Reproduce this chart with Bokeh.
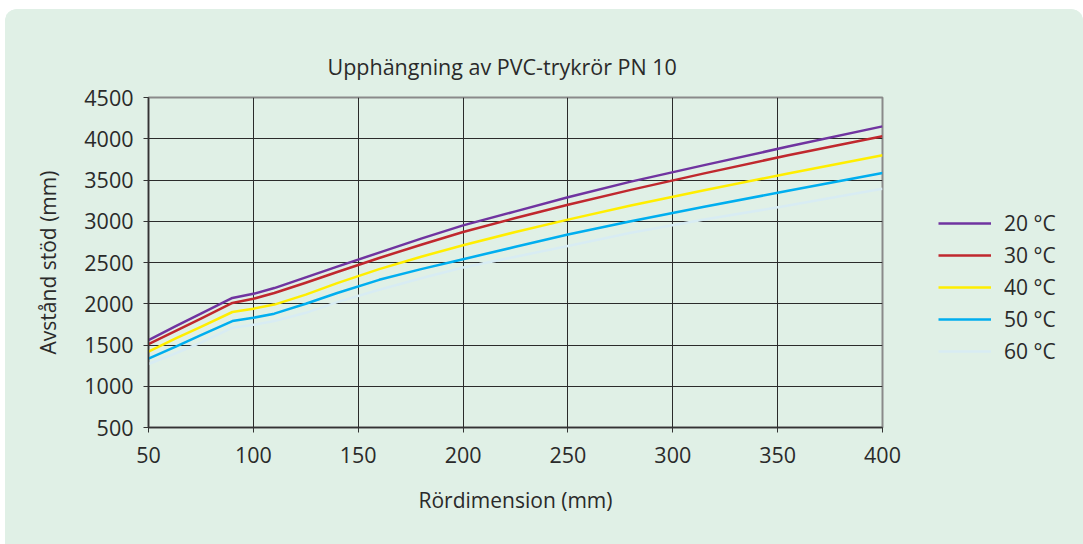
from bokeh.plotting import figure
from bokeh.layouts import row
from bokeh.models import Range1d, FixedTicker, Legend, LegendItem, Title, InlineStyleSheet
from bokeh.embed import file_html
from bokeh.resources import INLINE

# ---- data ----
diam = [50, 63, 75, 90, 100, 110, 125, 140, 160, 180, 200, 225, 250, 280, 315, 355, 400]
t20 = [1560, 1730, 1880, 2070, 2120, 2190, 2320, 2450, 2620, 2790, 2950, 3120, 3290, 3480, 3680, 3905, 4150]
t30 = [1510, 1670, 1820, 2010, 2060, 2130, 2255, 2385, 2555, 2715, 2870, 3040, 3200, 3380, 3580, 3800, 4030]
t40 = [1420, 1580, 1720, 1900, 1940, 1990, 2110, 2250, 2420, 2570, 2710, 2870, 3020, 3190, 3375, 3580, 3800]
t50 = [1335, 1480, 1620, 1790, 1830, 1880, 2000, 2130, 2290, 2420, 2540, 2690, 2840, 3000, 3175, 3370, 3585]
t60 = [1270, 1400, 1530, 1710, 1745, 1790, 1890, 2020, 2170, 2310, 2440, 2570, 2700, 2860, 3020, 3190, 3395]
series = [t20, t30, t40, t50, t60]
series_labels = ["20 °C", "30 °C", "40 °C", "50 °C", "60 °C"]
series_colors = ["#7034A0", "#C0282E", "#FFEE00", "#00AEEF", "#D8ECF3"]
x_ticks = [50, 100, 150, 200, 250, 300, 350, 400]
y_ticks = [500, 1000, 1500, 2000, 2500, 3000, 3500, 4000, 4500]

title_text = "Upphängning av PVC-trykrör PN 10"
x_label = "Rördimension (mm)"
y_label = "Avstånd stöd (mm)"

BG = "#E0F0E6"
FONT = "Open Sans"
TXT = "#2a2a2a"

# ---- main chart ----
p = figure(width=907, height=535, output_backend="svg", toolbar_location=None,
           x_range=Range1d(50, 400), y_range=Range1d(500, 4500),
           min_border_left=143, min_border_right=30, min_border_top=88,
           min_border_bottom=117,
           background_fill_color=BG, border_fill_color=BG)

p.add_layout(Title(text=title_text, align="left", offset=179, standoff=34,
                   text_font_size="21.5px", text_font=FONT, text_font_style="normal",
                   text_color=TXT), "above")

for ys, col in zip(series, series_colors):
    p.line(diam, ys, line_color=col, line_width=2.5, line_join="round")

for ax, ticks in ((p.xaxis[0], x_ticks), (p.yaxis[0], y_ticks)):
    ax.ticker = FixedTicker(ticks=ticks)
    ax.major_tick_out = 5
    ax.major_tick_in = 0
    ax.minor_tick_line_color = None
    ax.axis_line_color = "#333333"
    ax.axis_line_width = 1.5
    ax.major_tick_line_color = "#333333"
    ax.major_label_text_font = FONT
    ax.major_label_text_font_size = "21.5px"
    ax.major_label_text_color = TXT
    ax.axis_label_text_font = FONT
    ax.axis_label_text_font_size = "21px"
    ax.axis_label_text_font_style = "normal"
    ax.axis_label_text_color = TXT

p.xaxis.axis_label = x_label
p.yaxis.axis_label = y_label
p.xaxis.major_label_standoff = 14
p.yaxis.major_label_standoff = 10
p.xaxis.axis_label_standoff = 20
p.yaxis.axis_label_standoff = 19

p.xgrid.ticker = FixedTicker(ticks=x_ticks)
p.ygrid.ticker = FixedTicker(ticks=y_ticks)
p.grid.grid_line_color = "#2b2b2b"
p.grid.grid_line_alpha = 1
p.grid.grid_line_width = 1

p.outline_line_color = "#8a8a8a"
p.outline_line_width = 2

# ---- legend panel (right side); its ranges keep the series out of view ----
q = figure(width=171, height=535, output_backend="svg", toolbar_location=None,
           x_range=Range1d(0, 1), y_range=Range1d(0, 1),
           x_axis_type=None, y_axis_type=None,
           min_border=0, min_border_left=0, min_border_right=0,
           min_border_top=0, min_border_bottom=0,
           background_fill_color=None, border_fill_color=BG)
q.outline_line_color = None
q.grid.visible = False

leg_renderers = []
for ys, col in zip(series, series_colors):
    leg_renderers.append(q.line(diam, ys, line_color=col, line_width=2.5))

items = [LegendItem(label=lab, renderers=[r]) for lab, r in zip(series_labels, leg_renderers)]
legend = Legend(items=items, location=(26, 60), orientation="vertical",
                glyph_width=53, glyph_height=32, label_height=32, spacing=0,
                padding=0, margin=0, label_standoff=13,
                border_line_color=None, background_fill_alpha=0,
                label_text_font_size="21px", label_text_font=FONT,
                label_text_color=TXT)
q.add_layout(legend)

layout = row(p, q)
layout.margin = (9, 0, 0, 5)
layout.stylesheets = [InlineStyleSheet(
    css=":host { background: %s; border-radius: 12px 12px 0 0; overflow: hidden; }" % BG)]
html = file_html(layout, INLINE)
open("out.html", "w").write(html)
